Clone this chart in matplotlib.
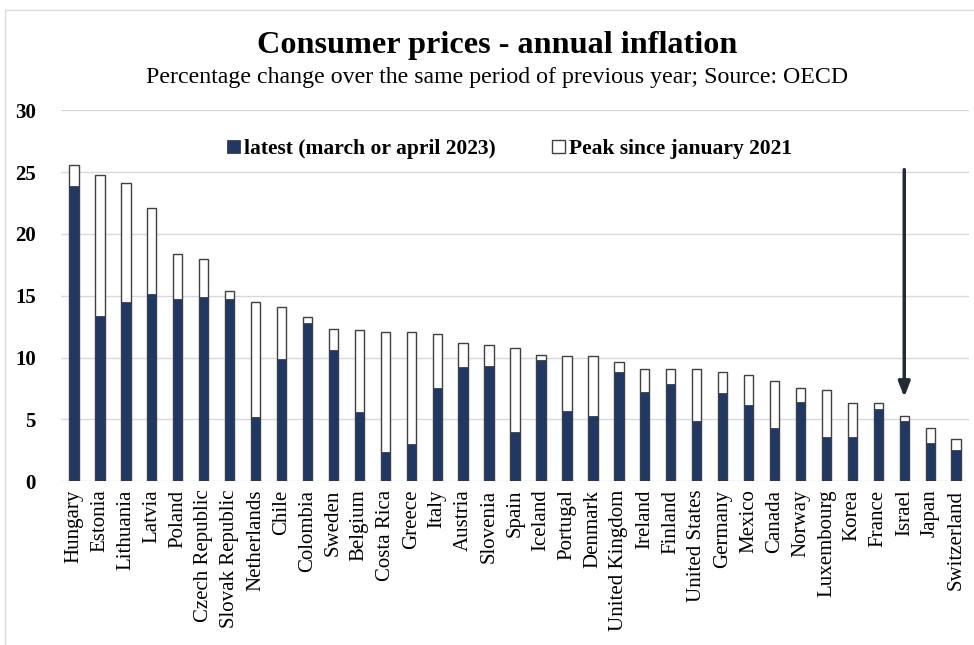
import matplotlib.pyplot as plt
import numpy as np
from matplotlib.patches import Rectangle

plt.rcParams['font.family'] = ['Liberation Serif', 'DejaVu Serif']

countries = ['Hungary', 'Estonia', 'Lithuania', 'Latvia', 'Poland', 'Czech Republic',
             'Slovak Republic', 'Netherlands', 'Chile', 'Colombia', 'Sweden', 'Belgium',
             'Costa Rica', 'Greece', 'Italy', 'Austria', 'Slovenia', 'Spain', 'Iceland',
             'Portugal', 'Denmark', 'United Kingdom', 'Ireland', 'Finland', 'United States',
             'Germany', 'Mexico', 'Canada', 'Norway', 'Luxembourg', 'Korea', 'France',
             'Israel', 'Japan', 'Switzerland']
latest = [23.9, 13.4, 14.5, 15.1, 14.7, 14.9, 14.7, 5.2, 9.9, 12.8, 10.6, 5.6,
          2.4, 3.0, 7.5, 9.2, 9.3, 4.0, 9.8, 5.7, 5.3, 8.8, 7.2, 7.9, 4.9,
          7.1, 6.2, 4.3, 6.4, 3.6, 3.6, 5.8, 4.9, 3.1, 2.5]
peak = [25.6, 24.8, 24.1, 22.1, 18.4, 18.0, 15.4, 14.5, 14.1, 13.3, 12.3, 12.2,
        12.1, 12.1, 11.9, 11.2, 11.0, 10.8, 10.2, 10.1, 10.1, 9.6, 9.1, 9.1, 9.1,
        8.8, 8.6, 8.1, 7.5, 7.4, 6.3, 6.3, 5.3, 4.3, 3.4]
yticks = [0, 5, 10, 15, 20, 25, 30]

navy = '#203864'

fig = plt.figure(figsize=(9.74, 6.45), dpi=100)
ax = fig.add_axes([0.0626, 0.254, 0.9324, 0.575])

x = np.arange(len(countries))
ax.bar(x, peak, width=0.36, color='white', edgecolor='#404040', linewidth=1.0,
       label='Peak since january 2021', zorder=2)
ax.bar(x, latest, width=0.36, color=navy, edgecolor='#404040', linewidth=0.6,
       label='latest (march or april 2023)', zorder=3)

ax.set_xlim(-0.5, len(countries) - 0.5)
ax.set_ylim(0, 30)
ax.set_yticks(yticks)
ax.set_yticklabels([str(t) for t in yticks], fontsize=15, fontweight='bold')
ax.tick_params(axis='y', length=0, pad=18)
ax.set_xticks(x)
ax.set_xticklabels(countries, rotation=90, fontsize=15)
ax.tick_params(axis='x', length=0, pad=6)
ax.grid(axis='y', color='#d9d9d9', linewidth=1.0, zorder=0)
ax.set_axisbelow(True)
for s in ax.spines.values():
    s.set_visible(False)

# arrow pointing at Israel
i = countries.index('Israel')
ax.annotate('', xy=(i, 6.8), xytext=(i, 25.2),
            arrowprops=dict(arrowstyle='-|>,head_width=0.35,head_length=0.9',
                            color='#222a35', lw=2.5, shrinkA=0, shrinkB=0), zorder=5)

h, l = ax.get_legend_handles_labels()
leg = ax.legend(h[::-1], l[::-1], loc='upper center', bbox_to_anchor=(0.494, 0.975), ncol=2,
                frameon=False, prop={'size': 15.5, 'weight': 'bold'}, handlelength=0.6,
                handleheight=0.6, handletextpad=0.2, columnspacing=2.6)

fig.text(0.51, 0.93, 'Consumer prices - annual inflation', ha='center', va='center',
         fontsize=23.2, fontweight='bold')
fig.text(0.51, 0.88, 'Percentage change over the same period of previous year; Source: OECD',
         ha='center', va='center', fontsize=17.2)

fig.patches.append(Rectangle((0.005, -0.01), 1.0, 0.995, transform=fig.transFigure,
                             fill=False, edgecolor='#d9d9d9', linewidth=1.0))

fig.savefig('out.png', dpi=100)
